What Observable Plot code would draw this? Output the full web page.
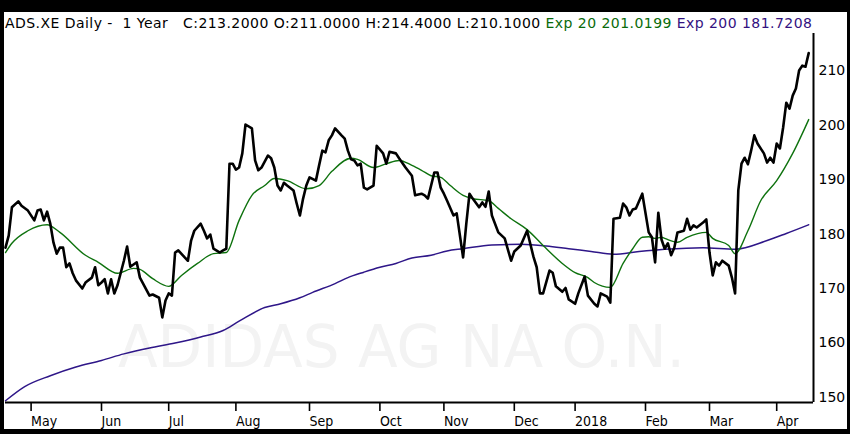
<!DOCTYPE html>
<html>
<head>
<meta charset="utf-8">
<script src="https://cdn.jsdelivr.net/npm/d3@7"></script>
<script src="https://cdn.jsdelivr.net/npm/@observablehq/plot@0.6"></script>
<style>
  html, body { margin: 0; padding: 0; background: #000; }
  #frame { position: relative; width: 850px; height: 434px; background: #000; overflow: hidden; }
  #inner { position: absolute; left: 4px; top: 12px; width: 843px; height: 417px; background: #fff; }
  #title { position: absolute; left: 5px; top: 15px; font-family: "DejaVu Sans", sans-serif; font-size: 14px; letter-spacing: 0.45px; line-height: 17px; white-space: pre; color: #000; }
  #chart { position: absolute; left: 0; top: 0; }
</style>
</head>
<body>
<div id="frame">
  <div id="inner"></div>
  <div id="title"></div>
  <div id="chart"></div>
</div>
<script>
// ---- Data (trading-day index, 0 = first day shown) ----
const closeDay = [0,1,2,4,5,7,9,10,11,12,13,14,15,16,17,18,19,20,21,22,24,25,27,28,29,30,31,32,33,34,35,37,38,39,40,41,42,43,45,46,48,49,50,51,52,53,54,56,57,58,59,61,62,63,64,65,67,68,69,70,71,72,73,74,75,77,78,79,80,82,83,84,85,86,87,88,90,91,92,93,94,95,97,98,99,100,101,102,103,105,106,107,108,109,110,111,112,113,115,116,118,119,120,122,123,125,127,128,130,131,132,134,135,136,137,138,140,141,143,144,145,146,148,149,150,151,152,154,156,158,159,161,163,165,166,167,168,170,171,172,174,175,176,178,179,181,182,184,185,186,188,189,190,192,193,194,195,196,197,199,201,202,203,204,205,206,207,208,209,210,212,213,214,215,216,218,219,220,221,222,223,224,226,227,228,229,230,231,232,233,234,235,237,238,239,240,241,242,243,244,245,246,247,248,249,250,251];
const closeVal = [177.5,179.7,184.9,186.0,185.2,184.3,182.5,184.3,184.5,182.5,184.1,181.9,178.4,176.4,177.5,177.5,173.9,174.6,172.8,171.5,170.0,171.1,172.0,173.9,170.6,171.1,171.7,169.1,171.7,169.1,170.6,175.1,177.7,174.0,174.4,174.8,172.0,170.9,168.7,168.9,168.3,164.7,167.8,169.1,168.7,176.6,177.0,175.7,175.1,178.8,180.6,181.9,180.6,179.2,179.9,177.3,176.6,177.0,177.3,192.9,192.9,191.8,192.2,194.8,200.1,199.4,193.5,191.7,192.2,194.4,193.9,192.2,188.9,188.0,189.4,188.9,188.0,185.6,183.4,186.5,188.9,190.4,189.8,192.6,195.3,195.0,197.2,198.1,199.4,198.1,197.5,195.3,193.7,193.5,192.6,192.9,188.5,188.2,188.9,196.2,194.8,192.9,195.1,194.8,193.9,192.2,190.7,187.1,187.4,187.1,186.5,191.3,191.3,188.5,187.4,186.1,183.4,183.8,175.7,181.9,187.4,186.5,184.9,185.8,185.0,187.8,183.4,180.3,179.2,175.1,176.8,177.9,180.6,175.8,173.9,169.1,169.1,173.3,172.9,170.4,169.4,170.1,168.0,167.2,169.1,172.2,168.7,167.2,166.7,169.1,168.5,167.4,182.8,183.0,185.6,184.9,183.4,184.5,184.7,187.4,180.3,179.4,174.8,183.9,179.0,177.3,178.3,176.1,177.5,180.3,180.6,182.8,180.8,181.6,181.2,182.1,182.7,176.6,172.4,174.8,174.2,175.1,174.2,172.0,169.1,188.0,192.9,194.0,192.8,195.3,198.1,196.6,194.8,193.1,194.0,193.1,196.6,195.7,199.5,204.1,203.0,205.4,206.7,210.0,210.9,210.7,213.2];

const ema20Day = [0,2,7,13,17,25,29,35,40,42,46,51,55,60,65,69,73,77,81,84,88,94,98,102,108,110,115,119,123,127,130,133,136,139,143,146,151,154,158,163,168,174,178,182,184,189,193,196,199,201,203,205,206,210,213,219,221,226,228,232,236,241,246,251];
const ema20Val = [176.6,178.3,180.6,181.7,180.3,176.1,174.8,172.8,173.7,173.5,171.8,170.4,172.4,174.6,176.4,176.6,182.5,187.1,188.9,190.2,189.8,188.3,188.9,191.5,193.9,193.7,192.2,192.9,193.5,192.6,191.7,190.7,190.4,188.9,187.1,186.5,186.1,184.7,182.8,180.8,177.9,174.6,172.9,172.0,171.1,170.2,174.6,177.3,179.4,179.5,179.2,179.4,179.2,178.5,179.4,180.3,179.2,177.9,176.4,180.6,186.1,189.8,194.8,201.0];

const ema200Day = [0,6,14,22,30,37,45,53,61,68,73,81,86,92,96,103,107,112,117,122,127,133,138,143,152,161,169,176,183,190,198,206,218,228,238,244,251];
const ema200Val = [149.4,152.0,154.0,155.6,156.8,158.0,159.1,160.0,161.1,162.3,164.0,166.5,167.2,168.3,169.3,170.9,172.0,173.0,173.9,174.6,175.6,176.1,176.9,177.3,178.0,178.1,177.8,177.3,176.8,176.3,176.8,177.2,177.5,177.2,178.8,180.1,181.7];

const monthTickDay = [8,30,51,72,95,117,137,159,178,200,220,241];
const monthTickLabel = ["May","Jun","Jul","Aug","Sep","Oct","Nov","Dec","2018","Feb","Mar","Apr"];
const priceTicks = [150,160,170,180,190,200,210];

const headerParts = [
  {text: "ADS.XE Daily -  1 Year   C:213.2000 O:211.0000 H:214.4000 L:210.1000 ", color: "#000000"},
  {text: "Exp 20 201.0199 ", color: "#0a6b0a"},
  {text: "Exp 200 181.7208", color: "#33127f"}
];
const watermark = "ADIDAS AG NA O.N.";

// ---- Header ----
const title = document.getElementById("title");
for (const p of headerParts) {
  const s = document.createElement("span");
  s.textContent = p.text;
  s.style.color = p.color;
  title.appendChild(s);
}

const Y0 = 149.08, Y1 = 216.8, XMAX = 252.5;
const axisFont = "'DejaVu Sans Condensed', 'DejaVu Sans', sans-serif";

const chart = Plot.plot({
  width: 850,
  height: 434,
  marginLeft: 5,
  marginRight: 37,
  marginTop: 33,
  marginBottom: 32,
  style: {background: "transparent", fontFamily: axisFont, fontSize: "14px", color: "#000", overflow: "visible"},
  x: {domain: [0, XMAX], axis: null},
  y: {domain: [Y0, Y1], axis: null},
  marks: [
    Plot.text([watermark], {frameAnchor: "middle", dx: -8, dy: 130, fontSize: 58, fill: "#f3f3f3", fontFamily: "DejaVu Sans"}),
    Plot.line(ema200Val, {x: ema200Day, y: ema200Val, stroke: "#2e1688", strokeWidth: 1.5, curve: "monotone-x"}),
    Plot.line(ema20Val, {x: ema20Day, y: ema20Val, stroke: "#0e720e", strokeWidth: 1.4, curve: "monotone-x"}),
    Plot.line(closeVal, {x: closeDay, y: closeVal, stroke: "#000", strokeWidth: 2.6, strokeLinejoin: "round"}),
    Plot.ruleX([XMAX], {stroke: "#000", strokeWidth: 2}),
    Plot.ruleY([Y0], {stroke: "#000", strokeWidth: 2}),
    Plot.axisY(priceTicks, {anchor: "right", tickSize: 0, tickPadding: 5, fontSize: 14, fontFamily: "DejaVu Sans", textAnchor: "start"}),
    Plot.axisX(monthTickDay, {anchor: "bottom", tickSize: 9, tickPadding: 5, strokeWidth: 1.6, fontSize: 14, textAnchor: "start", dx: 0,
      tickFormat: d => monthTickLabel[monthTickDay.indexOf(d)]})
  ]
});
document.getElementById("chart").appendChild(chart);
</script>
</body>
</html>
